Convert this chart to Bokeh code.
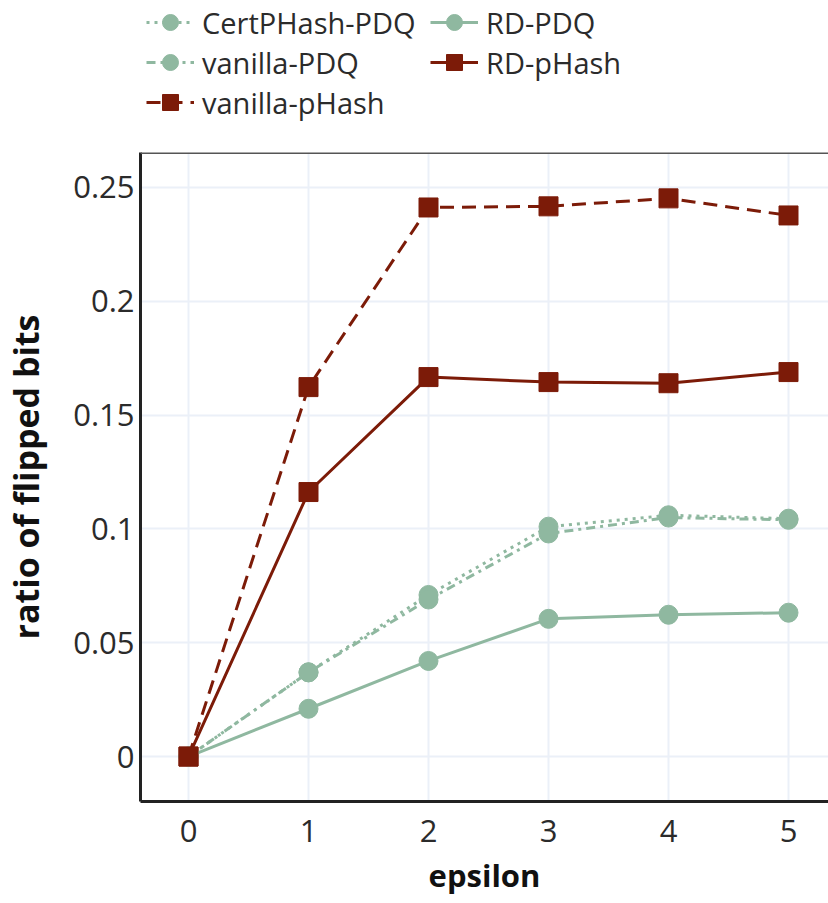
from bokeh.plotting import figure
from bokeh.layouts import column
from bokeh.models import Legend, LegendItem, FixedTicker, Span, Range1d, Title
from bokeh.embed import file_html
from bokeh.resources import INLINE

epsilon = [0, 1, 2, 3, 4, 5]
cert_pdq = [0, 0.037, 0.071, 0.101, 0.106, 0.1045]
vanilla_pdq = [0, 0.037, 0.069, 0.098, 0.105, 0.104]
rd_pdq = [0, 0.021, 0.042, 0.0605, 0.0623, 0.0632]
vanilla_phash = [0, 0.1623, 0.2412, 0.2417, 0.2452, 0.2377]
rd_phash = [0, 0.1162, 0.1667, 0.1645, 0.1640, 0.1689]

y_ticks = [0, 0.05, 0.1, 0.15, 0.2, 0.25]
y_tick_labels = ["0", "0.05", "0.1", "0.15", "0.2", "0.25"]
x_ticks = [0, 1, 2, 3, 4, 5]
x_title = "epsilon"
y_title = "ratio of flipped bits"

series_names = ["CertPHash-PDQ", "vanilla-PDQ", "vanilla-pHash", "RD-PDQ", "RD-pHash"]

GREEN = "#8fb8a0"
RED = "#7c1b08"
FONT = "Open Sans"
TXT = "#2b2b2b"

PX = 2280.0            # pixels per y unit
Y0 = -45 / PX
Y1 = 605 / PX

styles = {
    "CertPHash-PDQ": (GREEN, "3 5", "circle"),
    "vanilla-PDQ": (GREEN, "9 5 3 5", "circle"),
    "vanilla-pHash": (RED, "14 8", "square"),
    "RD-PDQ": (GREEN, "solid", "circle"),
    "RD-pHash": (RED, "solid", "square"),
}
data = {
    "CertPHash-PDQ": cert_pdq,
    "vanilla-PDQ": vanilla_pdq,
    "vanilla-pHash": vanilla_phash,
    "RD-PDQ": rd_pdq,
    "RD-pHash": rd_phash,
}

# ---------------- main plot ----------------
p = figure(width=828, height=759, output_backend="svg", toolbar_location=None,
           x_range=Range1d(-0.4, 5.3333), y_range=Range1d(Y0, Y1),
           min_border_left=140, min_border_right=0, min_border_top=8,
           min_border_bottom=101)
p.outline_line_color = None
p.background_fill_color = "white"
p.border_fill_color = "white"

p.xgrid.grid_line_color = "#ebf0f8"
p.ygrid.grid_line_color = "#ebf0f8"
p.xgrid.grid_line_width = 2
p.ygrid.grid_line_width = 2

p.xaxis.ticker = FixedTicker(ticks=x_ticks)
p.yaxis.ticker = FixedTicker(ticks=y_ticks)
p.yaxis.major_label_overrides = {t: l for t, l in zip(y_ticks, y_tick_labels)}
for ax in (p.xaxis[0], p.yaxis[0]):
    ax.major_tick_line_color = None
    ax.minor_tick_line_color = None
    ax.axis_line_color = "#222222"
    ax.axis_line_width = 3
    ax.major_label_text_font = FONT
    ax.major_label_text_font_size = "31px"
    ax.major_label_text_color = TXT
p.xaxis.major_label_standoff = 12
p.yaxis.major_label_standoff = 0
p.yaxis.axis_label = y_title
p.yaxis.axis_label_text_font = FONT
p.yaxis.axis_label_text_font_size = "34px"
p.yaxis.axis_label_text_font_style = "bold"
p.yaxis.axis_label_text_color = "#111111"
p.yaxis.axis_label_standoff = 21

xt = Title(text=x_title, align="center", text_font=FONT, text_font_size="31px",
           text_font_style="bold", text_color="#111111", standoff=15)
p.add_layout(xt, "below")

p.add_layout(Span(location=Y1, dimension="width", line_color="#555555", line_width=3))

for name in series_names:
    color, dash, marker = styles[name]
    p.line(epsilon, data[name], line_color=color, line_width=3, line_dash=dash)
    p.scatter(epsilon, data[name], marker=marker, size=19, fill_color=color, line_color=color)

# ---------------- legend strip ----------------
# same series, drawn outside this strip's visible range: only their legend glyphs show
lg = figure(width=828, height=144, output_backend="svg", toolbar_location=None,
            x_axis_type=None, y_axis_type=None, min_border=0,
            x_range=Range1d(-0.4, 5.3333), y_range=Range1d(10, 11))
lg.outline_line_color = None
lg.xgrid.visible = False
lg.ygrid.visible = False

items = []
for name in series_names:
    color, dash, marker = styles[name]
    ln = lg.line(epsilon, data[name], line_color=color, line_width=3, line_dash=dash)
    mk = lg.scatter(epsilon, data[name], marker=marker, size=19, fill_color=color,
                    line_color=color)
    items.append(LegendItem(label=name, renderers=[ln, mk]))

legend = Legend(items=items, location=(6, 22), nrows=3, orientation="vertical",
                label_text_font=FONT, label_text_font_size="29px", label_text_color=TXT,
                glyph_width=48, glyph_height=40, label_height=40, label_width=228,
                label_standoff=8, spacing=0, padding=0, margin=0,
                border_line_color=None, background_fill_alpha=0)
lg.add_layout(legend, "center")

layout = column(lg, p, spacing=0)
open("out.html", "w").write(file_html(layout, INLINE))
